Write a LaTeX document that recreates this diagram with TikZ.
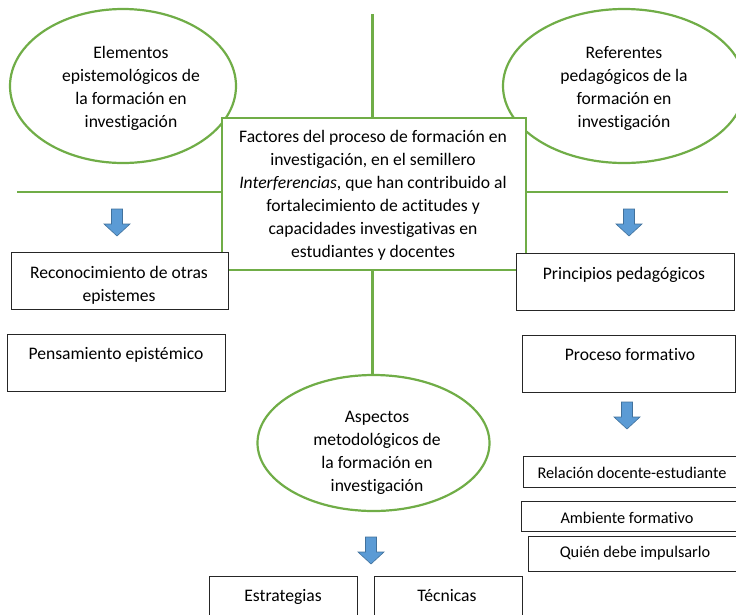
\documentclass[tikz,border=0pt]{standalone}
\usepackage{fontspec}
\setmainfont[Ligatures=NoCommon]{Carlito}
\usetikzlibrary{shapes.geometric}
\definecolor{leaf}{HTML}{70AD47}
\definecolor{arrowfill}{HTML}{5B9BD5}
\definecolor{arrowedge}{HTML}{41719C}

\begin{document}
\begin{tikzpicture}[x=1pt,y=-1pt,
  txt/.style={font=\fontsize{17.6}{23}\selectfont, align=center, inner sep=0pt},
  smalltxt/.style={txt, font=\fontsize{16.3}{20}\selectfont},
  oval/.style={ellipse, draw=leaf, line width=2.2pt, fill=white, inner sep=0pt},
  greenline/.style={draw=leaf, line width=2.2pt},
  box/.style={rectangle, draw=black!85, line width=1pt, fill=white, inner sep=0pt},
  corebox/.style={rectangle, draw=leaf, line width=2.4pt, fill=white, inner sep=0pt},
  downarrow/.pic={\draw[fill=arrowfill, draw=arrowedge, line width=0.6pt]
      (-5.5,0) -- (5.5,0) -- (5.5,15) -- (13,15) -- (0,27) -- (-13,15) -- (-5.5,15) -- cycle;}
]
\useasboundingbox (0,0) rectangle (736,614);
\clip (0,0) rectangle (736,614);

% axes of the fishbone layout
\coordinate (vtop) at (372.5,14);
\coordinate (vbot) at (372.5,376);
\coordinate (hleft) at (17,192);
\coordinate (hright) at (728,192);
\draw[greenline] (vtop) -- (vbot);
\draw[greenline] (hleft) -- (hright);

% three ovals
\node[oval, minimum width=226pt, minimum height=154pt] (epi) at (123,86) {};
\node[txt] (epitxt) at (131,88) {Elementos\\epistemológicos de\\la formación en\\investigación};

\node[oval, minimum width=242pt, minimum height=154pt] (ped) at (624,86) {};
\node[txt] (pedtxt) at (624,88) {Referentes\\pedagógicos de la\\formación en\\investigación};

\node[oval, minimum width=232pt, minimum height=136pt] (met) at (373.5,443) {};
\node[txt] (mettxt) at (377,452.5) {Aspectos\\metodológicos de\\la formación en\\investigación};

% central box
\node[corebox, minimum width=304pt, minimum height=152pt, anchor=north west] (core) at (221,116.5) {};
\node[txt] (coretxt) at (373,195.5) {Factores del proceso de formación en\\investigación, en el semillero\\\textit{Interferencias}, que han contribuido al\\fortalecimiento de actitudes y\\capacidades investigativas en\\estudiantes y docentes};

% left column
\node[box, minimum width=217pt, minimum height=57pt, anchor=north west] (reco) at (10.7,252) {};
\node[txt] (recotxt) at (119,285) {Reconocimiento de otras\\epistemes};
\node[box, minimum width=218pt, minimum height=57pt, anchor=north west] (pens) at (7,334) {};
\node[txt] (penstxt) at (116,354.5) {Pensamiento epistémico};

% right column
\node[box, minimum width=218pt, minimum height=57pt, anchor=north west] (prin) at (516,253) {};
\node[txt] (printxt) at (624,274.5) {Principios pedagógicos};
\node[box, minimum width=213pt, minimum height=57pt, anchor=north west] (proc) at (522,335) {};
\node[txt] (proctxt) at (630,354.5) {Proceso formativo};

\node[box, minimum width=220pt, minimum height=31pt, anchor=north west] (rel) at (523,456) {};
\node[smalltxt] (reltxt) at (632,472.5) {Relación docente-estudiante};
\node[box, minimum width=222pt, minimum height=30pt, anchor=north west] (amb) at (521,501) {};
\node[smalltxt] (ambtxt) at (627,517.5) {Ambiente formativo};
\node[box, minimum width=215pt, minimum height=35pt, anchor=north west] (who) at (528,536) {};
\node[smalltxt] (whotxt) at (635,553) {Quién debe impulsarlo};

% bottom row
\node[box, minimum width=148pt, minimum height=50pt, anchor=north west] (estr) at (209,576) {};
\node[txt] (estrtxt) at (283,596.5) {Estrategias};
\node[box, minimum width=148pt, minimum height=50pt, anchor=north west] (tec) at (374,576) {};
\node[txt] (tectxt) at (447,595) {Técnicas};

% block arrows
\pic at (117,209) {downarrow};
\pic at (629,209) {downarrow};
\pic at (627,402) {downarrow};
\pic at (371,537) {downarrow};
\end{tikzpicture}
\end{document}
